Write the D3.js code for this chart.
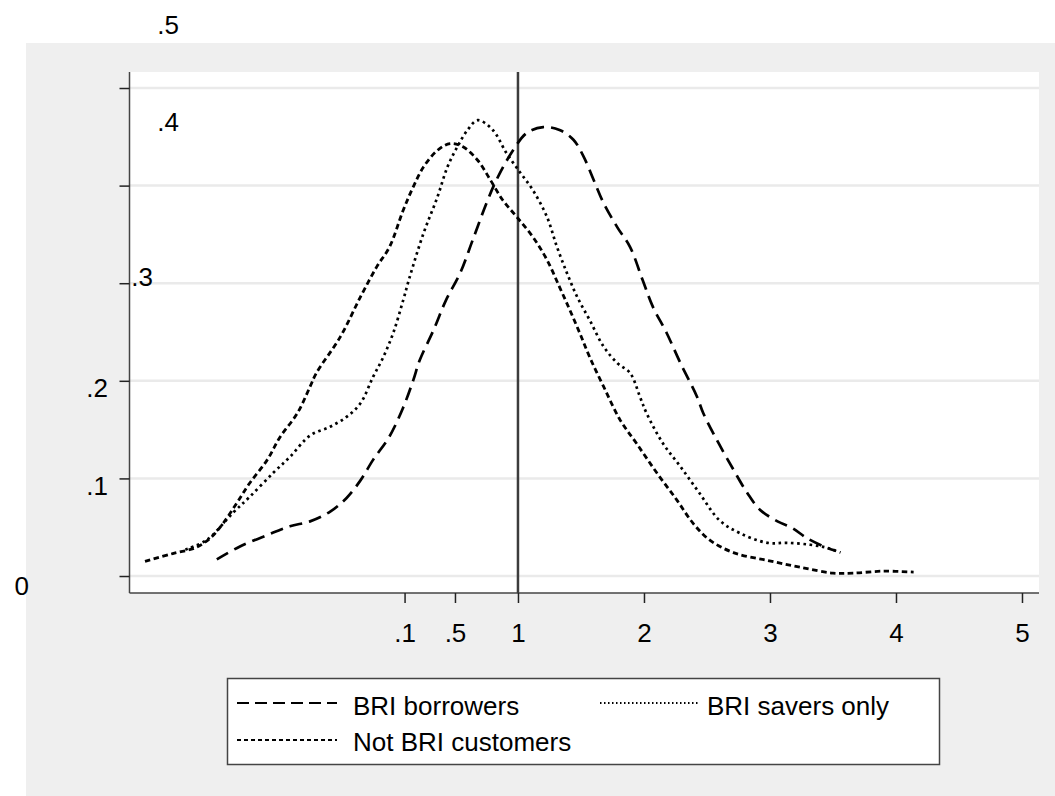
<!DOCTYPE html>
<html>
<head>
<meta charset="utf-8">
<script src="https://cdn.jsdelivr.net/npm/d3@7"></script>
<style>
  body { margin: 0; background: #fff; }
  text { font-family: "Liberation Sans", Arial, sans-serif; fill: #000; }
</style>
</head>
<body>
<div id="chart"></div>
<script>
// series: [x, density]
var borrowers = [
  [-1.39, 0.017], [-1.21, 0.030], [-0.99, 0.042], [-0.81, 0.051], [-0.65, 0.056],
  [-0.49, 0.066], [-0.36, 0.080], [-0.25, 0.098], [-0.15, 0.119], [-0.02, 0.143],
  [0.09, 0.173], [0.17, 0.201], [0.22, 0.221], [0.33, 0.252], [0.43, 0.283],
  [0.54, 0.310], [0.64, 0.344], [0.75, 0.382], [0.83, 0.406], [0.96, 0.436],
  [1.07, 0.454], [1.20, 0.460], [1.33, 0.457], [1.44, 0.447], [1.52, 0.430],
  [1.60, 0.406], [1.68, 0.382], [1.79, 0.357], [1.89, 0.337], [1.99, 0.303],
  [2.07, 0.276], [2.18, 0.249], [2.29, 0.218], [2.42, 0.184], [2.47, 0.167],
  [2.58, 0.139], [2.71, 0.109], [2.82, 0.085], [2.92, 0.068], [3.06, 0.056],
  [3.18, 0.049], [3.29, 0.039], [3.45, 0.029], [3.52, 0.026]
];
var savers = [
  [-1.64, 0.027], [-1.47, 0.037], [-1.26, 0.065], [-1.13, 0.081], [-0.94, 0.106],
  [-0.81, 0.122], [-0.65, 0.144], [-0.49, 0.153], [-0.36, 0.163], [-0.25, 0.177],
  [-0.15, 0.204], [-0.07, 0.224], [0.01, 0.249], [0.09, 0.283], [0.14, 0.306],
  [0.25, 0.351], [0.36, 0.388], [0.44, 0.419], [0.52, 0.440], [0.60, 0.457],
  [0.68, 0.467], [0.80, 0.457], [0.91, 0.433], [1.02, 0.413], [1.12, 0.395],
  [1.23, 0.368], [1.31, 0.337], [1.39, 0.310], [1.47, 0.286], [1.57, 0.262],
  [1.68, 0.235], [1.79, 0.218], [1.89, 0.208], [1.97, 0.183], [2.02, 0.167],
  [2.15, 0.136], [2.29, 0.112], [2.44, 0.085], [2.60, 0.057], [2.76, 0.044],
  [2.98, 0.034], [3.14, 0.034], [3.32, 0.032], [3.45, 0.029], [3.56, 0.024]
];
var nonCustomers = [
  [-1.96, 0.015], [-1.74, 0.023], [-1.56, 0.029], [-1.44, 0.039], [-1.34, 0.054],
  [-1.23, 0.075], [-1.13, 0.095], [-0.99, 0.119], [-0.89, 0.142], [-0.75, 0.167],
  [-0.65, 0.194], [-0.60, 0.208], [-0.41, 0.245], [-0.25, 0.286], [-0.12, 0.317],
  [-0.02, 0.337], [0.09, 0.375], [0.17, 0.399], [0.25, 0.419], [0.36, 0.436],
  [0.46, 0.443], [0.56, 0.440], [0.68, 0.426], [0.78, 0.406], [0.88, 0.385],
  [0.99, 0.368], [1.12, 0.347], [1.23, 0.324], [1.33, 0.296], [1.41, 0.273],
  [1.49, 0.249], [1.57, 0.224], [1.68, 0.194], [1.81, 0.160], [1.94, 0.136],
  [2.10, 0.106], [2.26, 0.078], [2.39, 0.054], [2.52, 0.037], [2.71, 0.024],
  [2.98, 0.016], [3.24, 0.009], [3.50, 0.003], [3.66, 0.003], [3.90, 0.005],
  [4.14, 0.004]
];
var seriesNames = ["BRI borrowers", "BRI savers only", "Not BRI customers"];

var xTicks = [0.1, 0.5, 1, 2, 3, 4, 5];
var xTickLabels = [".1", ".5", "1", "2", "3", "4", "5"];
var yTicks = [0, 0.1, 0.2, 0.3, 0.4, 0.5];
var yTickLabels = ["0", ".1", ".2", ".3", ".4", ".5"];
var refLine = 1;

(function() {
  var width = 1055, height = 796;
  var plot = {left: 129.5, right: 1039, top: 72, bottom: 593};

  var svg = d3.select('#chart').append('svg')
    .attr('width', width)
    .attr('height', height);

  // outer gray panel
  svg.append('rect')
    .attr('x', 26).attr('y', 43)
    .attr('width', width - 26).attr('height', height - 43)
    .attr('fill', '#efefef');

  svg.append('rect')
    .attr('x', plot.left).attr('y', plot.top)
    .attr('width', plot.right - plot.left).attr('height', plot.bottom - plot.top)
    .attr('fill', '#fff');

  var x = d3.scaleLinear().domain([-2.083, 5.135]).range([plot.left, plot.right]);
  var y = d3.scaleLinear().domain([-0.0174, 0.5164]).range([plot.bottom, plot.top]);

  // gridlines
  svg.append('g').selectAll('line')
    .data(yTicks)
    .enter().append('line')
      .attr('x1', plot.left).attr('x2', plot.right)
      .attr('y1', function(d) { return y(d); })
      .attr('y2', function(d) { return y(d); })
      .attr('stroke', '#eaeaea')
      .attr('stroke-width', 2.5);

  // y axis (labels are drawn by hand, they sit oddly in the original)
  var yAxis = svg.append('g')
    .attr('transform', 'translate(' + plot.left + ',0)')
    .call(d3.axisLeft(y).tickValues(yTicks).tickSize(10).tickFormat(''));
  yAxis.select('.domain').attr('d', 'M0,' + plot.top + 'V' + plot.bottom)
    .attr('stroke', '#444').attr('stroke-width', 1.5);
  yAxis.selectAll('.tick line').attr('stroke', '#222').attr('stroke-width', 1.5);

  // label placement: [end x, offset from tick]
  var yLabelPos = [[29, 19], [108, 17], [108, 16], [153, 3], [179, -55], [179, -54]];
  svg.append('g').selectAll('text')
    .data(yTicks)
    .enter().append('text')
      .attr('x', function(d, i) { return yLabelPos[i][0]; })
      .attr('y', function(d, i) { return y(d) + yLabelPos[i][1]; })
      .attr('text-anchor', 'end')
      .style('font-size', '26px')
      .text(function(d, i) { return yTickLabels[i]; });

  // x axis
  var xAxis = svg.append('g')
    .attr('transform', 'translate(0,' + plot.bottom + ')')
    .call(d3.axisBottom(x).tickValues(xTicks).tickSize(10)
      .tickFormat(function(d, i) { return xTickLabels[i]; }));
  xAxis.select('.domain').attr('d', 'M' + plot.left + ',0H' + plot.right)
    .attr('stroke', '#444').attr('stroke-width', 1.5);
  xAxis.selectAll('.tick line').attr('stroke', '#222').attr('stroke-width', 1.5);
  xAxis.selectAll('.tick text')
    .attr('y', 49).attr('dy', 0)
    .style('font-size', '26px')
    .style('font-family', '"Liberation Sans", Arial, sans-serif')
    .attr('fill', '#000');

  // reference line at 1
  svg.append('line')
    .attr('x1', x(refLine)).attr('x2', x(refLine))
    .attr('y1', plot.top).attr('y2', plot.bottom)
    .attr('stroke', '#3c3c3c')
    .attr('stroke-width', 2.5);

  var line = d3.line()
    .x(function(d) { return x(d[0]); })
    .y(function(d) { return y(d[1]); })
    .curve(d3.curveCatmullRom.alpha(0.5));

  var styles = [
    {dash: '13,7', w: 2.7},
    {dash: '2.6,3.6', w: 2.7},
    {dash: '5.5,3.5', w: 2.8}
  ];
  var allSeries = [borrowers, savers, nonCustomers];

  svg.append('g').selectAll('path')
    .data(allSeries)
    .enter().append('path')
      .attr('d', line)
      .attr('fill', 'none')
      .attr('stroke', '#000')
      .attr('stroke-width', function(d, i) { return styles[i].w; })
      .attr('stroke-dasharray', function(d, i) { return styles[i].dash; });

  // legend
  var legend = svg.append('g');
  legend.append('rect')
    .attr('x', 227.5).attr('y', 678.5)
    .attr('width', 712).attr('height', 86)
    .attr('fill', '#fff')
    .attr('stroke', '#444')
    .attr('stroke-width', 1.5);

  var legendItems = [
    {x: 237, y: 703, tx: 353, ty: 715, dash: '12,6', w: 2.2},
    {x: 600, y: 703, tx: 707, ty: 715, dash: '1.5,2.5', w: 1.8},
    {x: 237, y: 740, tx: 353, ty: 751, dash: '4,3', w: 2}
  ];
  legendItems.forEach(function(it, i) {
    legend.append('line')
      .attr('x1', it.x).attr('x2', it.x + 100)
      .attr('y1', it.y).attr('y2', it.y)
      .attr('stroke', '#000')
      .attr('stroke-width', it.w)
      .attr('stroke-dasharray', it.dash);
    legend.append('text')
      .attr('x', it.tx).attr('y', it.ty)
      .style('font-size', '26px')
      .text(seriesNames[i]);
  });
})();
</script>
</body>
</html>
